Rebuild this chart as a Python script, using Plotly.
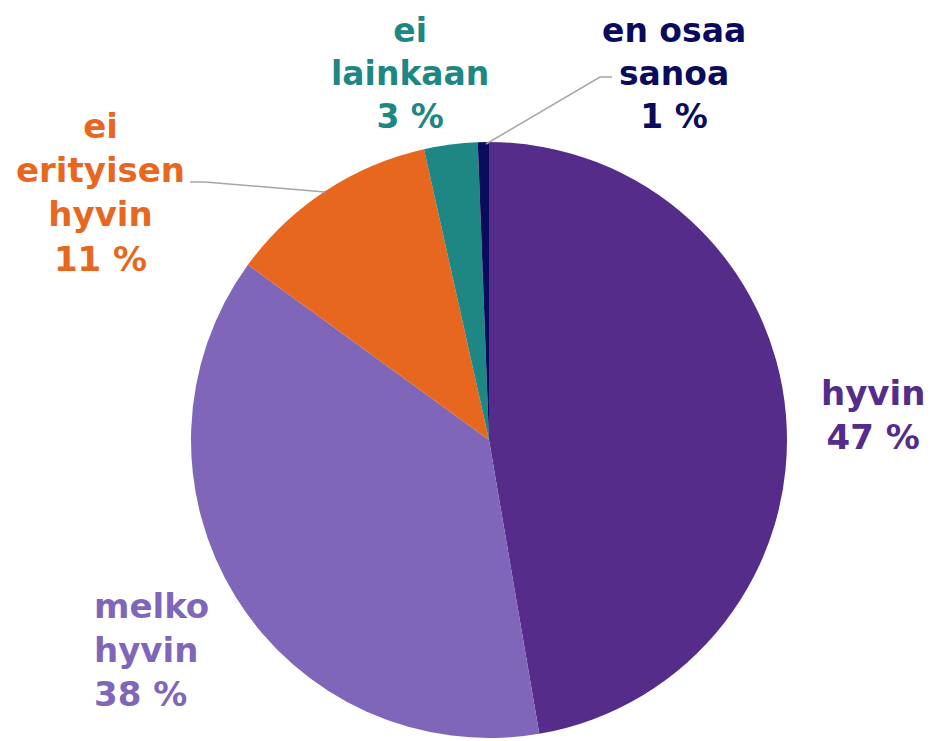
import plotly.graph_objects as go

# ---- data ----
categories = ["hyvin", "melko hyvin", "ei erityisen hyvin", "ei lainkaan", "en osaa sanoa"]
label_lines = ["hyvin", "melko<br>hyvin", "ei<br>erityisen<br>hyvin", "ei<br>lainkaan", "en osaa<br>sanoa"]
values = [47.3, 37.7, 11.5, 2.9, 0.6]
shown_pct = [47, 38, 11, 3, 1]
colors = ["#552C8A", "#7F66B9", "#E8671F", "#1E8784", "#0B0B5E"]

W, H = 935, 741
OFF = 8  # page body margin

def px(x, y):
    return (x - OFF) / W, 1 - (y - OFF) / H

dx0, dy0 = px(191, 738)
dx1, dy1 = px(787, 142)

fig = go.Figure()
fig.add_trace(go.Pie(
    labels=categories,
    values=values,
    sort=False,
    direction="clockwise",
    rotation=0,
    marker=dict(colors=colors, line=dict(width=0)),
    textinfo="none",
    hoverinfo="label+percent",
    showlegend=False,
    domain=dict(x=[dx0, dx1], y=[dy0, dy1]),
))

# label placement (layout only)
label_pos = [
    (873, 415, "center"),
    (93, 650, "left"),
    (100, 192, "center"),
    (410, 74, "center"),
    (674, 74, "center"),
]
label_size = [34, 34, 34, 33, 33]
annotations = []
for i, (x, y, al) in enumerate(label_pos):
    xp, yp = px(x, y)
    annotations.append(dict(
        x=xp, y=yp, xref="paper", yref="paper",
        text=f"{label_lines[i]}<br>{shown_pct[i]} %",
        showarrow=False,
        xanchor="left" if al == "left" else "center",
        yanchor="middle",
        align=al,
        borderpad=0,
        font=dict(family="DejaVu Sans", size=label_size[i], color=colors[i], weight="bold"),
    ))

def path(points):
    s = ""
    for k, (x, y) in enumerate(points):
        xp, yp = px(x, y)
        s += ("M" if k == 0 else "L") + f" {xp} {yp} "
    return s

shapes = [
    dict(type="path", xref="paper", yref="paper",
         path=path([(190, 182), (205, 182), (325, 192)]),
         line=dict(color="#A6A6A6", width=1.5)),
    dict(type="path", xref="paper", yref="paper",
         path=path([(612, 77), (600, 77), (486, 144)]),
         line=dict(color="#A6A6A6", width=1.5)),
]

fig.update_layout(
    width=W, height=H,
    margin=dict(l=0, r=0, t=0, b=0),
    paper_bgcolor="white",
    plot_bgcolor="white",
    annotations=annotations,
    shapes=shapes,
)

fig.write_html("out.html")
